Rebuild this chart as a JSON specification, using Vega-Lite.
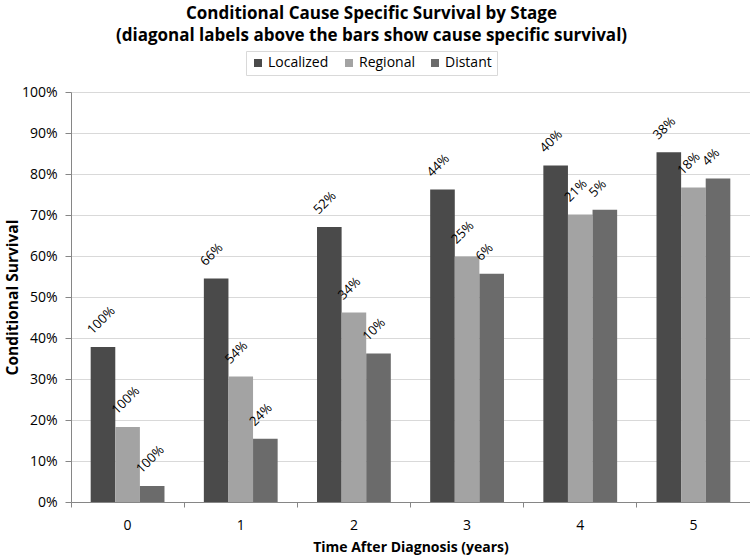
{
  "$schema": "https://vega.github.io/schema/vega-lite/v6.json",
  "width": 679,
  "height": 410,
  "autosize": {"type": "none"},
  "padding": {"left": 71, "top": 92, "right": 0, "bottom": 56},
  "background": "white",
  "title": {
    "text": ["Conditional Cause Specific Survival by Stage", "(diagonal labels above the bars show cause specific survival)"],
    "font": "Open Sans",
    "fontSize": 17,
    "fontWeight": "bold",
    "color": "#000000",
    "anchor": "middle",
    "dx": -39,
    "offset": 6,
    "lineHeight": 22
  },
  "data": {
    "values": [
      {"year": "0", "stage": "Localized", "value": 0.378, "css": 1.00},
      {"year": "0", "stage": "Regional", "value": 0.183, "css": 1.00},
      {"year": "0", "stage": "Distant", "value": 0.039, "css": 1.00},
      {"year": "1", "stage": "Localized", "value": 0.545, "css": 0.66},
      {"year": "1", "stage": "Regional", "value": 0.306, "css": 0.54},
      {"year": "1", "stage": "Distant", "value": 0.154, "css": 0.24},
      {"year": "2", "stage": "Localized", "value": 0.671, "css": 0.52},
      {"year": "2", "stage": "Regional", "value": 0.462, "css": 0.34},
      {"year": "2", "stage": "Distant", "value": 0.362, "css": 0.10},
      {"year": "3", "stage": "Localized", "value": 0.762, "css": 0.44},
      {"year": "3", "stage": "Regional", "value": 0.599, "css": 0.25},
      {"year": "3", "stage": "Distant", "value": 0.557, "css": 0.06},
      {"year": "4", "stage": "Localized", "value": 0.821, "css": 0.40},
      {"year": "4", "stage": "Regional", "value": 0.701, "css": 0.21},
      {"year": "4", "stage": "Distant", "value": 0.713, "css": 0.05},
      {"year": "5", "stage": "Localized", "value": 0.853, "css": 0.38},
      {"year": "5", "stage": "Regional", "value": 0.767, "css": 0.18},
      {"year": "5", "stage": "Distant", "value": 0.789, "css": 0.04}
    ]
  },
  "encoding": {
    "x": {
      "field": "year",
      "type": "ordinal",
      "scale": {"paddingInner": 0, "paddingOuter": 0},
      "axis": {
        "title": "Time After Diagnosis (years)",
        "labelAngle": 0,
        "bandPosition": 0,
        "labelFont": "Open Sans",
        "labelFontSize": 14,
        "labelColor": "#000000",
        "labelPadding": 11,
        "titleFont": "Open Sans",
        "titleFontSize": 14,
        "titleFontWeight": "bold",
        "titleColor": "#000000",
        "titlePadding": 8,
        "domainColor": "#868686",
        "tickColor": "#868686",
        "tickSize": 5,
        "grid": false
      }
    },
    "xOffset": {
      "field": "stage",
      "type": "nominal",
      "sort": ["Localized", "Regional", "Distant"],
      "scale": {"paddingInner": 0, "paddingOuter": 0.8}
    },
    "y": {
      "field": "value",
      "type": "quantitative",
      "scale": {"domain": [0, 1], "nice": false},
      "axis": {
        "title": "Conditional Survival",
        "format": ".0%",
        "values": [0, 0.1, 0.2, 0.3, 0.4, 0.5, 0.6, 0.7, 0.8, 0.9, 1],
        "labelFont": "Open Sans",
        "labelFontSize": 14,
        "labelColor": "#000000",
        "labelPadding": 8,
        "titleFont": "Open Sans",
        "titleFontSize": 15.5,
        "titleFontWeight": "bold",
        "titleColor": "#000000",
        "titlePadding": 1,
        "domainColor": "#868686",
        "tickColor": "#868686",
        "tickSize": 6,
        "gridColor": "#d9d9d9",
        "gridWidth": 1
      }
    }
  },
  "layer": [
    {
      "mark": {"type": "bar"},
      "encoding": {
        "color": {
          "field": "stage",
          "type": "nominal",
          "sort": ["Localized", "Regional", "Distant"],
          "scale": {"domain": ["Localized", "Regional", "Distant"], "range": ["#4a4a4a", "#a3a3a3", "#6b6b6b"]},
          "legend": {
            "title": null,
            "orient": "none",
            "direction": "horizontal",
            "legendX": 175,
            "legendY": -41,
            "symbolType": "square",
            "symbolSize": 64,
            "symbolStrokeWidth": 0,
            "labelFont": "Open Sans",
            "labelFontSize": 14,
            "labelColor": "#000000",
            "labelOffset": 3,
            "columnPadding": 13,
            "strokeColor": "#d9d9d9",
            "padding": 5,
            "fillColor": "white"
          }
        }
      }
    },
    {
      "mark": {
        "type": "text",
        "angle": -45,
        "align": "left",
        "baseline": "alphabetic",
        "dx": 1,
        "dy": -16,
        "font": "Open Sans",
        "fontSize": 13,
        "color": "#000000"
      },
      "encoding": {
        "text": {"field": "css", "type": "quantitative", "format": ".0%"}
      }
    }
  ],
  "config": {
    "view": {"stroke": null}
  }
}
